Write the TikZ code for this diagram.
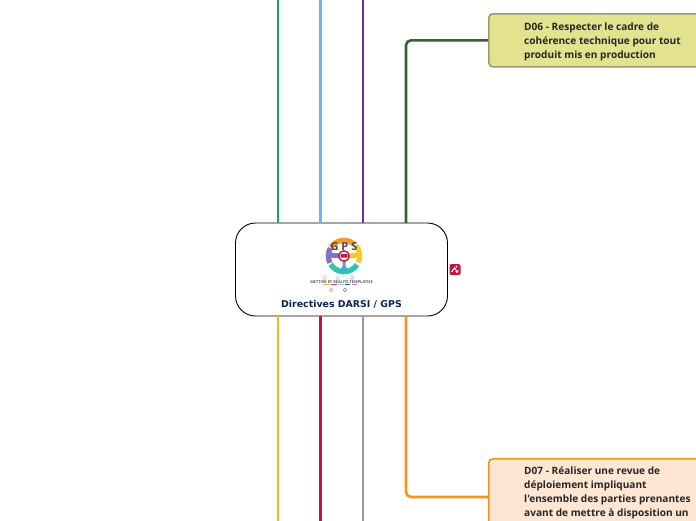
\documentclass[tikz,border=0pt]{standalone}
\usepackage{fontspec}
\newfontfamily\boxfont{Open Sans}
\newfontfamily\titlefont{DejaVu Sans}
\usetikzlibrary{positioning}
\definecolor{titleblue}{HTML}{0B2352}
\definecolor{dsixfill}{HTML}{E3E28E}
\definecolor{dsixdraw}{HTML}{9C9C6B}
\definecolor{dsevenfill}{HTML}{FDE6D2}
\definecolor{dsevendraw}{HTML}{F7931E}
\definecolor{branchgreen}{HTML}{12A862}
\definecolor{branchblue}{HTML}{5FBDEB}
\definecolor{branchpurple}{HTML}{6A2DA0}
\definecolor{branchdark}{HTML}{2E662E}
\definecolor{branchyellow}{HTML}{FDB515}
\definecolor{branchred}{HTML}{C4163A}
\definecolor{branchgray}{HTML}{999999}
\definecolor{wheelorange}{HTML}{F39A2D}
\definecolor{wheelpurple}{HTML}{8572C4}
\definecolor{wheelyellow}{HTML}{F5C928}
\definecolor{wheelteal}{HTML}{2EC4B0}
\definecolor{wheelblue}{HTML}{4AA8C8}
\tikzset{
    branch/.style={line width=2.6pt, rounded corners=5pt},
    topicbox/.style={draw, line width=1.6pt, rounded corners=4pt, anchor=north west, inner sep=0pt},
    topictext/.style={anchor=north west, align=left, inner sep=0pt, text=black!85,
        font=\boxfont\fontsize{10.1}{14}\selectfont\bfseries},
    wheelarc/.style={line width=5.3pt},
}
\begin{document}
\begin{tikzpicture}[x=1pt,y=-1pt]

            \useasboundingbox (0,0) rectangle (696,520);

            % Draw topic boxes.
            \node[topicbox, fill=dsixfill, draw=dsixdraw, minimum width=230pt, minimum height=53pt] (dsix) at (488,13) {};
            \node[topictext] (dsixtext) at (524,23) {D06 - Respecter le cadre de\\cohérence technique pour tout\\produit mis en production};
            \node[topicbox, fill=dsevenfill, draw=dsevendraw, minimum width=230pt, minimum height=100pt] (dseven) at (488,458) {};
            \node[topictext] (dseventext) at (524,467) {D07 - Réaliser une revue de\\déploiement impliquant\\l'ensemble des parties prenantes\\avant de mettre à disposition un};

            % Draw central node.
            \node[draw=black, line width=.9pt, rounded corners=20pt, minimum width=212pt, minimum height=93pt, inner sep=0pt] (center) at (341.5,269.5) {};
            \node[font=\titlefont\fontsize{9.4}{10}\selectfont\bfseries, text=titleblue, inner sep=0pt] (title) at (341.5,304.5) {Directives DARSI / GPS};

            % Draw free ends of the branches.
            \foreach \name/\X in {a/278,b/320.4,c/363}
                {\coordinate (top\name) at (\X,-3);
                \coordinate (bot\name) at (\X,523);}
            \coordinate (topd) at (406,223);
            \coordinate (botd) at (406,316);

            % Draw branches.
            \draw[branch, branchgreen] (topa) -- (topa |- center.north);
            \draw[branch, branchblue] (topb) -- (topb |- center.north);
            \draw[branch, branchpurple] (topc) -- (topc |- center.north);
            \draw[branch, branchdark] (topd) |- (dsix.west);
            \draw[branch, branchyellow] (bota) -- (bota |- center.south);
            \draw[branch, branchred] (botb) -- (botb |- center.south);
            \draw[branch, branchgray] (botc) -- (botc |- center.south);
            \draw[branch, dsevendraw] (botd) |- (dseven.west |- 0,497);

            % Draw the wheel (angles run clockwise here).
            \coordinate (wheel) at (344,256);
            \foreach \S/\E/\C in {-148/-48/wheelorange,-42/24/wheelyellow,34/148/wheelteal,154/210/wheelpurple}
                \draw[wheelarc, \C] ([shift={(\S:15.7)}]wheel) arc[start angle=\S, end angle=\E, radius=15.7];
            \draw[line width=5pt, wheelpurple] (330,255) -- (340,256);
            \draw[line width=5pt, wheelyellow] (358,255) -- (348,256);
            \fill[wheelblue] (342.5,260) -- (345.5,260) -- (345.5,266) -- (348,271) -- (340,271) -- (342.5,266) -- cycle;
            \node[font=\boxfont\fontsize{11}{11}\selectfont\bfseries, text=black!70, inner sep=0pt] (gps) at (344,246.5) {G P S};
            \draw[line width=1.4pt, branchred, fill=white] (wheel) circle (5.2);
            \fill[branchred, rounded corners=.8pt] (340.5,254) rectangle (347.5,257.6);

            % Draw logo caption and its small circles.
            \node[font=\boxfont\fontsize{3.9}{4}\selectfont\bfseries, text=black!65, inner sep=0pt] (caption) at (341.5,282) {METTIER ET REALITE TEMPLATISE};
            \foreach \X/\Y/\C in {324.7/278/wheelorange,338/278/branchblue,352/278/wheelpurple,331.3/290/branchred,345/290/titleblue}
                \draw[\C!60, line width=.5pt] (\X,\Y) circle (1.8);
            \foreach \A/\B/\C in {323/329/wheelorange,331/337/branchred,339/344/branchblue,345/350/titleblue,352/357/wheelpurple}
                \draw[\C!80, line width=.6pt] (\A,284.3) -- (\B,284.3);

            % Draw marker.
            \node[fill=branchred, rounded corners=1.5pt, minimum size=11pt, inner sep=0pt] (marker) at (455,269.5) {};
            \draw[white, line width=1.1pt] (451.5,272) -- (454.5,268) -- (456,270);
            \fill[white] (457,271.5) circle (1.7);
            \fill[white] (456.5,266.5) circle (1);

            \end{tikzpicture}
\end{document}
